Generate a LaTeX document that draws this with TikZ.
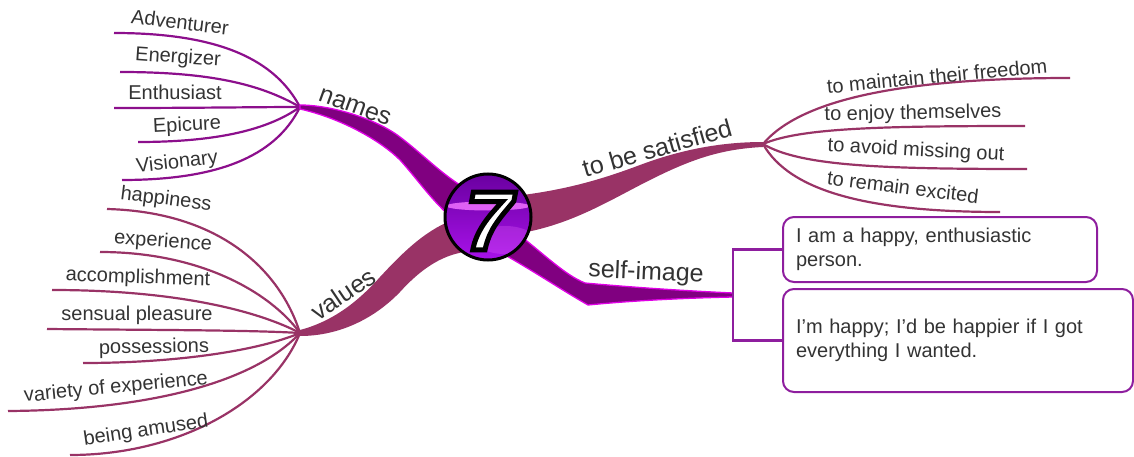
\documentclass[tikz,border=0pt]{standalone}
\usepackage{fontspec}
\setmainfont{Liberation Sans}
\definecolor{txt}{HTML}{333333}
\definecolor{purp}{HTML}{800080}
\definecolor{plin}{HTML}{8C0F8C}
\definecolor{mag}{HTML}{E000E6}
\definecolor{maroon}{HTML}{993366}
\definecolor{boxc}{HTML}{8E1E9E}
\definecolor{sevA}{HTML}{6A00A0}
\definecolor{sevB}{HTML}{A812EA}
\definecolor{sevH}{HTML}{F070FF}
\newcommand{\outlinedseven}{\special{pdf:code 0 G 2 Tr 5 w}7\special{pdf:code 0 Tr}}
\begin{document}
\begin{tikzpicture}[x=1pt,y=-1pt,
  lbl/.style={text=txt,font=\fontsize{20}{24}\selectfont,inner sep=0pt},
  mainlbl/.style={text=txt,font=\fontsize{25}{30}\selectfont,inner sep=0pt},
  pline/.style={draw=plin,line width=2.2pt},
  mline/.style={draw=maroon,line width=2.2pt},
  pband/.style={fill=purp,draw=mag,line width=1.3pt},
  mband/.style={fill=maroon},
  tbox/.style={draw=boxc,line width=2pt,rounded corners=11pt,text=txt,
    font=\fontsize{20}{24.5}\selectfont,align=left,inner xsep=13pt,inner ysep=0pt},
  bracket/.style={draw=boxc,line width=2.6pt},
  seven/.style={font=\fontsize{84}{84}\selectfont\bfseries\itshape,inner sep=0pt}
]
\useasboundingbox (0,0) rectangle (1134,457);

% hubs
\coordinate (hubN) at (300,107);
\coordinate (hubV) at (300,333);
\coordinate (hubT) at (763,144);
\coordinate (hubS) at (733,295);

% names children ends
\coordinate (nA) at (114,33);
\coordinate (nB) at (120,72);
\coordinate (nC) at (114,108);
\coordinate (nD) at (138,142);
\coordinate (nE) at (122,180);
% values children ends
\coordinate (vA) at (107,209);
\coordinate (vB) at (100,252);
\coordinate (vC) at (52,290);
\coordinate (vD) at (47,329);
\coordinate (vE) at (83,363);
\coordinate (vF) at (8,411);
\coordinate (vG) at (70,455);
% satisfied children ends
\coordinate (sA) at (1070,78);
\coordinate (sB) at (1025,126);
\coordinate (sC) at (1027,169);
\coordinate (sD) at (1000,212);

% children lines
\draw[pline] (nA) .. controls (220,33) and (275,60) .. (hubN);
\draw[pline] (nB) .. controls (210,72) and (260,84) .. (hubN);
\draw[pline] (nC) .. controls (200,108) and (260,107) .. (hubN);
\draw[pline] (nD) .. controls (210,142) and (265,132) .. (hubN);
\draw[pline] (nE) .. controls (215,180) and (275,158) .. (hubN);

\draw[mline] (vA) .. controls (220,212) and (280,270) .. (hubV);
\draw[mline] (vB) .. controls (200,252) and (270,292) .. (hubV);
\draw[mline] (vC) .. controls (180,290) and (260,312) .. (hubV);
\draw[mline] (vD) .. controls (150,330) and (250,330) .. (hubV);
\draw[mline] (vE) .. controls (180,363) and (260,350) .. (hubV);
\draw[mline] (vF) .. controls (150,410) and (255,382) .. (hubV);
\draw[mline] (vG) .. controls (180,455) and (272,402) .. (hubV);

\draw[mline] (hubT) .. controls (800,100) and (900,78) .. (sA);
\draw[mline] (hubT) .. controls (800,128) and (880,126) .. (sB);
\draw[mline] (hubT) .. controls (800,166) and (880,169) .. (sC);
\draw[mline] (hubT) .. controls (790,192) and (870,212) .. (sD);

% main bands
\path[pband] (300,105) .. controls (330,105) and (375,118) .. (400,137)
  .. controls (425,156) and (445,178) .. (472,192) -- (462,226)
  .. controls (435,206) and (420,182) .. (400,160)
  .. controls (380,140) and (340,118) .. (300,109) -- cycle;
\path[mband] (300,330) .. controls (330,322) and (355,305) .. (380,277)
  .. controls (405,250) and (428,228) .. (458,218) -- (464,252)
  .. controls (440,256) and (420,270) .. (400,292)
  .. controls (375,318) and (340,336) .. (300,336) -- cycle;
\path[mband] (515,196) .. controls (565,190) and (600,180) .. (640,165)
  .. controls (680,150) and (720,142) .. (763,142) -- (763,147)
  .. controls (720,149) and (690,160) .. (650,180)
  .. controls (610,200) and (570,226) .. (515,234) -- cycle;
\path[pband] (518,234) .. controls (545,255) and (565,275) .. (585,283)
  .. controls (640,288) and (690,291) .. (733,293) -- (733,297)
  .. controls (690,298) and (640,300) .. (588,305)
  .. controls (565,292) and (535,272) .. (505,255) -- cycle;

% central circle
\node[circle,minimum size=86pt,inner sep=0pt] (ctr) at (488,217) {};
\shade[top color=sevA,bottom color=sevB] (ctr.center) circle (43pt);
\begin{scope}
  \clip (ctr.center) circle (43pt);
  \fill[sevH,opacity=0.85] (488,206) ellipse (42pt and 4.5pt);
  \fill[sevH,opacity=0.25] (505,240) ellipse (30pt and 14pt);
\end{scope}
\draw[black,line width=3pt] (ctr.center) circle (43pt);
\node[seven,text=white] (sev) at (489,221) {\outlinedseven};

% self-image boxes
\node[tbox,text width=288pt,minimum height=65pt] (b1) at (940,249.5)
  {I am a happy, enthusiastic\\person.};
\node[tbox,text width=324pt,minimum height=103pt] (b2) at (958,340.5)
  {I'm happy; I'd be happier if I got\\everything I wanted.};
\draw[bracket] (b1.west) -| (hubS) |- (b2.west);

% main labels
\node[mainlbl,rotate=-20] (lN) at (355,107) {names};
\node[mainlbl,rotate=34] (lV) at (343,294) {values};
\node[mainlbl,rotate=16] (lT) at (657,148) {to be satisfied};
\node[mainlbl,rotate=-2.5] (lS) at (646,273) {self-image};

% names children labels
\node[lbl,rotate=-7] (tA) at (180,22) {Adventurer};
\node[lbl,rotate=-4] (tB) at (178,58) {Energizer};
\node[lbl] (tC) at (175,92) {Enthusiast};
\node[lbl,rotate=3] (tD) at (187,126) {Epicure};
\node[lbl,rotate=6] (tE) at (177,163) {Visionary};

% values children labels
\node[lbl,rotate=-7] (wA) at (166,200) {happiness};
\node[lbl,rotate=-4] (wB) at (163,242) {experience};
\node[lbl,rotate=-2] (wC) at (138,278) {accomplishment};
\node[lbl] (wD) at (137,315) {sensual pleasure};
\node[lbl,rotate=1] (wE) at (154,348) {possessions};
\node[lbl,rotate=5.5] (wF) at (116,388) {variety of experience};
\node[lbl,rotate=8.5] (wG) at (146,431) {being amused};

% satisfied children labels
\node[lbl,rotate=5.5] (uA) at (937,76) {to maintain their freedom};
\node[lbl,rotate=1] (uB) at (913,114) {to enjoy themselves};
\node[lbl,rotate=-3] (uC) at (916,151) {to avoid missing out};
\node[lbl,rotate=-7] (uD) at (903,187) {to remain excited};
\end{tikzpicture}
\end{document}
